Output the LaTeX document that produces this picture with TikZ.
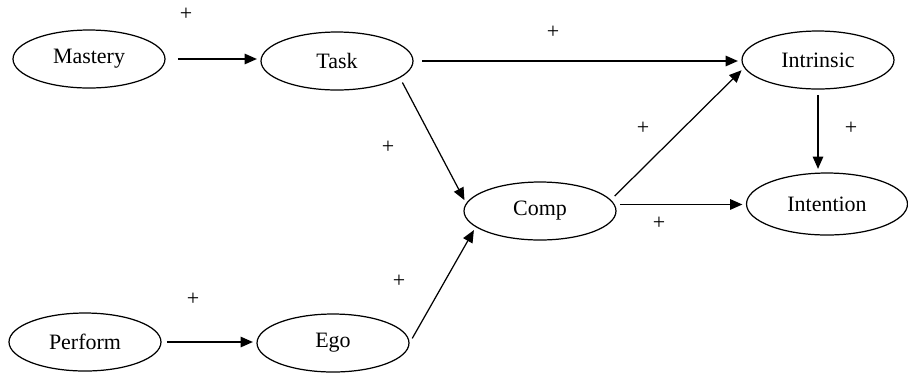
\documentclass[tikz,border=0pt]{standalone}
\usepackage{fontspec}
\setmainfont{Liberation Serif}
\usetikzlibrary{shapes.geometric, arrows.meta}

\begin{document}
\begin{tikzpicture}[
      x=0.02cm, y=-0.02cm,
      every node/.style={font=\fontsize{12.5}{15}\selectfont},
      var/.style={ellipse, draw, line width=0.7pt, minimum width=3.04cm, minimum height=1.16cm, inner sep=0pt},
      sign/.style={inner sep=0pt},
      arrow/.style={-{Triangle[length=7pt, width=6pt]}, line width=0.7pt, shorten <=3pt, shorten >=2pt}
    ]
    \useasboundingbox (0,0) rectangle (908,373);

    \node[var] (mastery) at (89,59) {Mastery};
    \node[var] (task) at (337,61) {Task};
    \node[var] (intrinsic) at (818,60) {Intrinsic};
    \node[var] (comp) at (540,211) {Comp};
    \node[var, minimum width=3.22cm, minimum height=1.24cm] (intention) at (827,204) {Intention};
    \node[var] (perform) at (85,342) {Perform};
    \node[var] (ego) at (333,343) {Ego};

    \draw[arrow, shorten <=7pt] (mastery.east) -- (mastery.east -| task.west);
    \draw[arrow, shorten <=5pt] (task.east) -- (task.east -| intrinsic.west);
    \draw[arrow] (task.-15) -- (comp.174);
    \draw[arrow] (ego.east) -- (comp.194);
    \draw[arrow] (comp.9) -- (intrinsic.186);
    \draw[arrow] (comp.5) -- (comp.5 -| intention.west);
    \draw[arrow] (intrinsic.south) -- (intrinsic.south |- intention.north);
    \draw[arrow] (perform.east) -- (perform.east -| ego.west);

    % signs on the paths
    \node[sign] (s1) at (186,14) {+};
    \node[sign] (s2) at (553,32) {+};
    \node[sign] (s3) at (388,147) {+};
    \node[sign] (s4) at (643,128) {+};
    \node[sign] (s5) at (851,128) {+};
    \node[sign] (s6) at (659,223) {+};
    \node[sign] (s7) at (193,299) {+};
    \node[sign] (s8) at (399,281) {+};
  \end{tikzpicture}
\end{document}
